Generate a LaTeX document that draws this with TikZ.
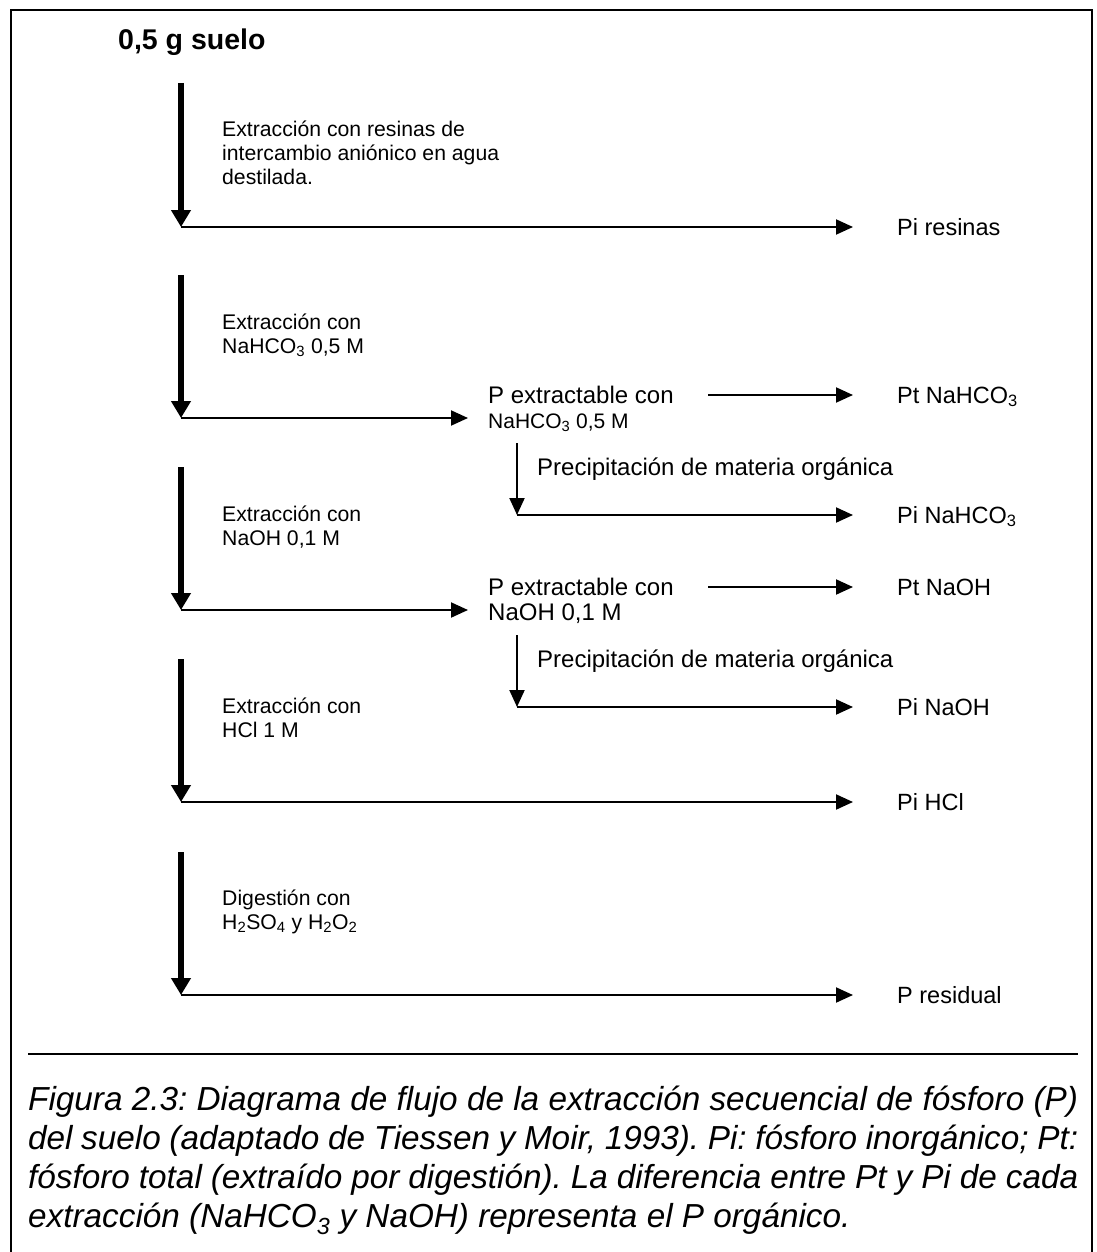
\documentclass[tikz,border=0pt]{standalone}
\usepackage{fontspec}
\setmainfont{Liberation Sans}
\usetikzlibrary{arrows.meta}
\frenchspacing
\begin{document}
\begin{tikzpicture}[x=1pt,y=-1pt,
  thickarr/.style={line width=6.5pt, -{Triangle[width=19pt,length=17pt]}},
  thinarr/.style={line width=2pt, -{Triangle[width=15pt,length=17pt]}},
  frame/.style={line width=2.2pt},
  lbl/.style={anchor=base west, inner sep=0pt, font=\fontsize{23.5}{28}\selectfont},
  smalltxt/.style={anchor=base west, inner sep=0pt, font=\fontsize{21.2}{24}\selectfont},
  midtxt/.style={anchor=base west, inner sep=0pt, font=\fontsize{24}{25}\selectfont},
]
\useasboundingbox (0,0) rectangle (1096,1252);
\draw[frame] (11,1252) -- (11,10) -- (1092,10) -- (1092,1252);

% title
\node[anchor=base west, inner sep=0pt, font=\bfseries\fontsize{28.5}{34}\selectfont] (soil) at (118,50) {0,5 g suelo};

% right-hand result labels
\node[lbl] (pires) at (897,235) {Pi resinas};
\node[lbl] (ptbic) at (897,403) {Pt NaHCO\textsubscript{3}};
\node[lbl] (pibic) at (897,523) {Pi NaHCO\textsubscript{3}};
\node[lbl] (ptoh)  at (897,595) {Pt NaOH};
\node[lbl] (pioh)  at (897,715) {Pi NaOH};
\node[lbl] (pihcl) at (897,810) {Pi HCl};
\node[lbl] (pres)  at (897,1003) {P residual};

% step texts
\node[smalltxt] (t1) at (222,137) {\parbox[t]{400pt}{\raggedright Extracción con resinas de\\intercambio aniónico en agua\\destilada.}};
\node[smalltxt] (t2) at (222,329) {\parbox[t]{300pt}{\raggedright Extracción con\\NaHCO\textsubscript{3} 0,5 M}};
\node[smalltxt] (t3) at (222,521) {\parbox[t]{300pt}{\raggedright Extracción con\\NaOH 0,1 M}};
\node[smalltxt] (t4) at (222,713) {\parbox[t]{300pt}{\raggedright Extracción con\\HCl 1 M}};
\node[smalltxt] (t5) at (222,905) {\parbox[t]{300pt}{\raggedright Digestión con\\H\textsubscript{2}SO\textsubscript{4} y H\textsubscript{2}O\textsubscript{2}}};

% intermediate extracts
\node[midtxt] (ebic) at (488,403) {\parbox[t]{300pt}{\raggedright P extractable con\\{\fontsize{21}{25}\selectfont NaHCO\textsubscript{3} 0,5 M}}};
\node[midtxt] (eoh) at (488,595) {\parbox[t]{300pt}{\raggedright P extractable con\\NaOH 0,1 M}};
\node[midtxt] (pp1) at (537,475) {Precipitación de materia orgánica};
\node[midtxt] (pp2) at (537,667) {Precipitación de materia orgánica};

% coordinates
\coordinate (a1s) at (181,83);   \coordinate (a1e) at (181,227);
\coordinate (a2s) at (181,275);  \coordinate (a2e) at (181,418);
\coordinate (a3s) at (181,467);  \coordinate (a3e) at (181,610);
\coordinate (a4s) at (181,659);  \coordinate (a4e) at (181,802);
\coordinate (a5s) at (181,852);  \coordinate (a5e) at (181,995);
\coordinate (b1s) at (517,443);  \coordinate (b1e) at (517,515);
\coordinate (b2s) at (517,635);  \coordinate (b2e) at (517,707);
\coordinate (s1) at (708,395);   \coordinate (s2) at (708,587);

% thick arrows
\draw[thickarr] (a1s) -- (a1e);
\draw[thickarr] (a2s) -- (a2e);
\draw[thickarr] (a3s) -- (a3e);
\draw[thickarr] (a4s) -- (a4e);
\draw[thickarr] (a5s) -- (a5e);

% horizontal connectors
\draw[thinarr, shorten >=44pt] (a1e) -- (a1e -| pires.west);
\draw[thinarr, shorten >=20pt] (a2e) -- (a2e -| ebic.west);
\draw[thinarr, shorten >=20pt] (a3e) -- (a3e -| eoh.west);
\draw[thinarr, shorten >=44pt] (a4e) -- (a4e -| pihcl.west);
\draw[thinarr, shorten >=44pt] (a5e) -- (a5e -| pres.west);
\draw[thinarr, shorten >=44pt] (s1) -- (s1 -| ptbic.west);
\draw[thinarr, shorten >=44pt] (s2) -- (s2 -| ptoh.west);

% precipitation branches
\draw[thinarr] (b1s) -- (b1e);
\draw[thinarr, shorten >=44pt] (b1e) -- (b1e -| pibic.west);
\draw[thinarr] (b2s) -- (b2e);
\draw[thinarr, shorten >=44pt] (b2e) -- (b2e -| pioh.west);

% caption
\draw[frame] (28,1054) -- (1078,1054);
\node[anchor=base west, inner sep=0pt, font=\itshape\fontsize{33.3}{39}\selectfont] (cap) at (28,1110) {\parbox[t]{1050pt}{%
\makebox[1050pt][s]{Figura 2.3: Diagrama de flujo de la extracción secuencial de fósforo (P)}\\
\makebox[1050pt][s]{del suelo (adaptado de Tiessen y Moir, 1993). Pi: fósforo inorgánico; Pt:}\\
\makebox[1050pt][s]{fósforo total (extraído por digestión). La diferencia entre Pt y Pi de cada}\\
\makebox[1050pt][l]{extracción (NaHCO\textsubscript{3} y NaOH) representa el P orgánico.}}};
\end{tikzpicture}
\end{document}
